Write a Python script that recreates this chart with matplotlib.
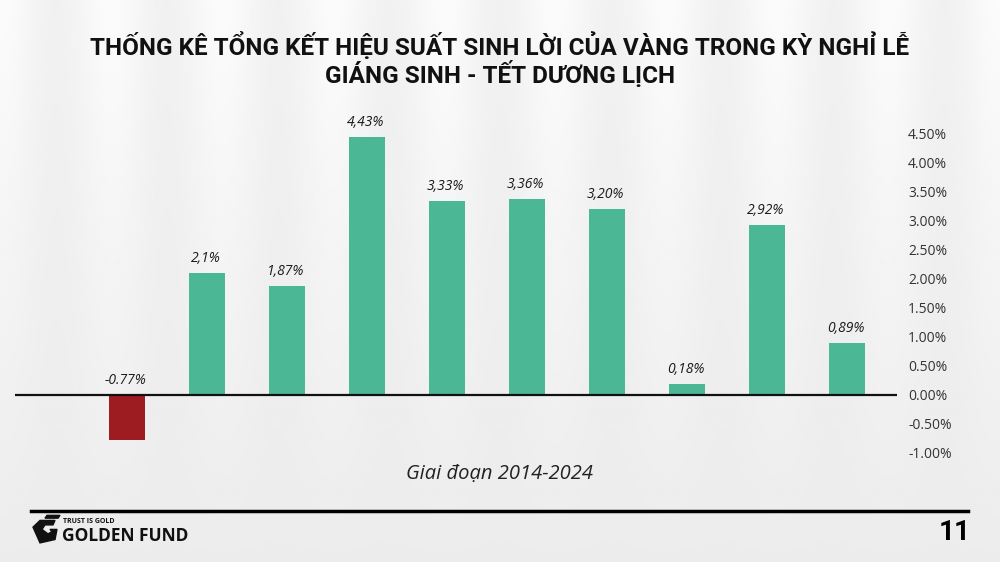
import numpy as np
import matplotlib.pyplot as plt
from matplotlib.patches import Polygon

# data
years = ['2014', '2015', '2016', '2017', '2018', '2019', '2020', '2021', '2022', '2023']
returns = [-0.77, 2.10, 1.87, 4.43, 3.33, 3.36, 3.20, 0.18, 2.92, 0.89]
labels = ['-0.77%', '2,1%', '1,87%', '4,43%', '3,33%', '3,36%', '3,20%', '0,18%', '2,92%', '0,89%']
yticks = [-1.0, -0.5, 0.0, 0.5, 1.0, 1.5, 2.0, 2.5, 3.0, 3.5, 4.0, 4.5]
title = 'THỐNG KÊ TỔNG KẾT HIỆU SUẤT SINH LỜI CỦA VÀNG TRONG KỲ NGHỈ LỄ\nGIÁNG SINH - TẾT DƯƠNG LỊCH'

green = '#4bb794'
red = '#9c1c21'
font = 'Open Sans'

fig = plt.figure(figsize=(10, 5.62), dpi=100)
fig.patch.set_facecolor('#ebebe9')

# soft background: lighter at top, light vertical banding
bg = fig.add_axes([0, 0, 1, 1], zorder=-10)
gy = np.linspace(0, 1, 200)[:, None]
gx = np.linspace(0, 1, 400)[None, :]
band = 0.5 + 0.5 * np.cos(gx * 2 * np.pi * 9)
img = 0.925 + 0.04 * (1 - gy) * band + 0.02 * (1 - gy)
bg.imshow(img, cmap='gray', vmin=0, vmax=1, aspect='auto', extent=[0, 1, 0, 1])
bg.axis('off')

ax = fig.add_axes([0.015, 0.194, 0.882, 0.569])
ax.patch.set_alpha(0)
x = np.arange(len(years))
colors = [red if v < 0 else green for v in returns]
ax.bar(x, returns, width=0.45, color=colors, zorder=2)
ax.axhline(0, color='#111111', lw=1.6, zorder=3)

for xi, v, lab in zip(x, returns, labels):
    yy = 0.12 if v < 0 else v + 0.12
    ax.text(xi - 0.02, yy, lab, ha='center', va='bottom', fontsize=10,
            style='italic', family=font, color='#1a1a1a')

ax.set_xlim(-1.4, 9.625)
ax.set_ylim(-1.0, 4.5)
ax.set_yticks(yticks)
ax.set_yticklabels(['%.2f%%' % t for t in yticks], fontsize=10, family=font, color='#333333')
ax.yaxis.tick_right()
ax.tick_params(axis='y', length=0, pad=8)
ax.set_xticks([])
for s in ax.spines.values():
    s.set_visible(False)

fig.text(0.5, 0.894, title, ha='center', va='center', fontsize=17.5, fontweight='bold',
         family=['Liberation Sans Narrow', 'Roboto'], color='#111111', linespacing=1.05)
fig.text(0.5, 0.157, 'Giai đoạn 2014-2024', ha='center', va='center', fontsize=14.5,
         style='italic', family=font, color='#222222')

# footer
fig.add_artist(plt.Line2D([0.031, 0.968], [0.091, 0.091], color='black', lw=2.5))
fig.text(0.955, 0.052, '11', ha='center', va='center', fontsize=20, fontweight='bold',
         family='Roboto', color='black')
fig.text(0.063, 0.072, 'TRUST IS GOLD', ha='left', va='center', fontsize=5, fontweight='bold',
         family=font, color='#111111')
fig.text(0.062, 0.046, 'GOLDEN FUND', ha='left', va='center', fontsize=12.5, fontweight='bold',
         family=font, color='#111111')
# simple logo mark
logo = [(0.033, 0.062), (0.040, 0.074), (0.055, 0.074), (0.053, 0.066), (0.045, 0.066),
        (0.042, 0.058), (0.048, 0.050), (0.052, 0.054), (0.050, 0.058), (0.057, 0.058),
        (0.055, 0.040), (0.040, 0.034)]
fig.add_artist(Polygon(logo, closed=True, transform=fig.transFigure, color='#111111'))
fig.add_artist(Polygon([(0.045, 0.078), (0.058, 0.078), (0.060, 0.083), (0.047, 0.083)],
                       closed=True, transform=fig.transFigure, color='#111111'))

fig.savefig('out.png', dpi=100, facecolor=fig.get_facecolor())
